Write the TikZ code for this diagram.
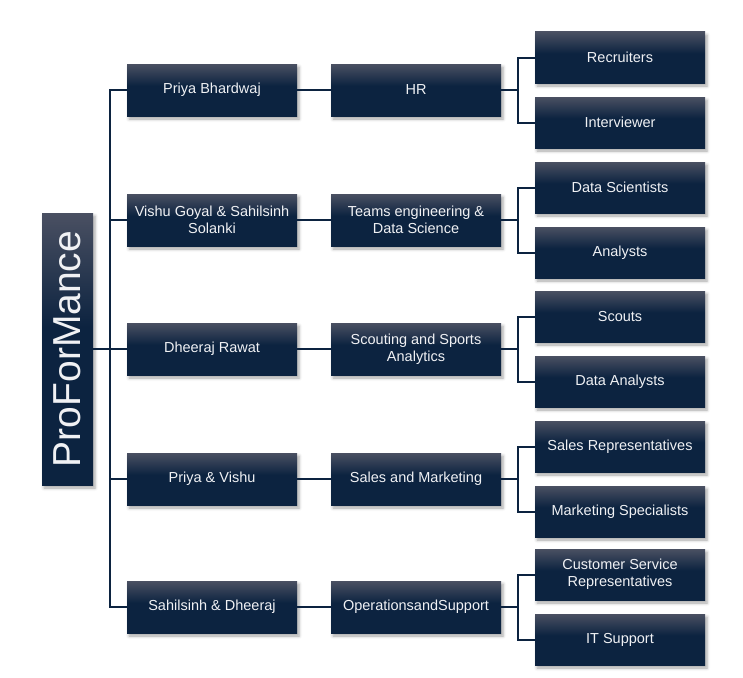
\documentclass[tikz,border=0pt]{standalone}
\usepackage{fontspec}
\usepackage{graphicx}
\setmainfont{Liberation Sans}
\usetikzlibrary{shadows,shadows.blur}

\definecolor{boxnavy}{HTML}{0C2340}
\definecolor{boxtop}{HTML}{4A5062}
\definecolor{boxtext}{HTML}{F0F1F4}
\pgfdeclareverticalshading{boxshade}{100bp}{color(0bp)=(boxnavy); color(54bp)=(boxnavy); color(75bp)=(boxtop); color(100bp)=(boxtop)}

\begin{document}
\begin{tikzpicture}[x=1pt, y=-1pt, line cap=rect,
	orgbox/.style={shading=boxshade, text=boxtext, font=\fontsize{14.5}{17}\selectfont,
		align=center, inner sep=0pt, minimum width=170pt, minimum height=52pt,
		blur shadow={shadow xshift=2pt, shadow yshift=-3pt, shadow blur radius=3pt, shadow opacity=35}},
	link/.style={draw=boxnavy, line width=2pt}]

\useasboundingbox (0,0) rectangle (743,677);

% The root
\node[orgbox, minimum width=51pt, minimum height=272pt, font=\fontsize{39}{41}\selectfont]
	(root) at (67.5,349) {\rotatebox{90}{ProForMance}};

\coordinate (bus) at (110,0);

% Leads, departments and teams
\foreach \i/\y/\lead/\dept/\teama/\teamb in {
	1/90/{Priya Bhardwaj}/{HR}/{Recruiters}/{Interviewer},
	2/220/{Vishu Goyal \& Sahilsinh\\Solanki}/{Teams engineering \&\\Data Science}/{Data Scientists}/{Analysts},
	3/349/{Dheeraj Rawat}/{Scouting and Sports\\Analytics}/{Scouts}/{Data Analysts},
	4/479/{Priya \& Vishu}/{Sales and Marketing}/{Sales Representatives}/{Marketing Specialists},
	5/607/{Sahilsinh \& Dheeraj}/{OperationsandSupport}/{Customer Service\\Representatives}/{IT Support}}{
	\node[orgbox] (lead\i) at (212,\y) {\lead};
	\node[orgbox] (dept\i) at (416,\y) {\dept};
	\node[orgbox, minimum height=51pt] (teama\i) at (620,\y-32.5) {\teama};
	\node[orgbox, minimum height=51pt] (teamb\i) at (620,\y+32.5) {\teamb};
	\coordinate (fork\i) at (518,\y);
}

% Connectors
\begin{scope}[link]
	\draw (root.east) -- (root.east -| bus);
	\draw (bus |- lead1.west) -- (bus |- lead5.west);
	\foreach \i in {1,...,5}{
		\draw (bus |- lead\i.west) -- (lead\i.west);
		\draw (lead\i.east) -- (dept\i.west);
		\draw (dept\i.east) -- (fork\i);
		\draw (teama\i.west) -| (fork\i) |- (teamb\i.west);
	}
\end{scope}

\end{tikzpicture}
\end{document}
